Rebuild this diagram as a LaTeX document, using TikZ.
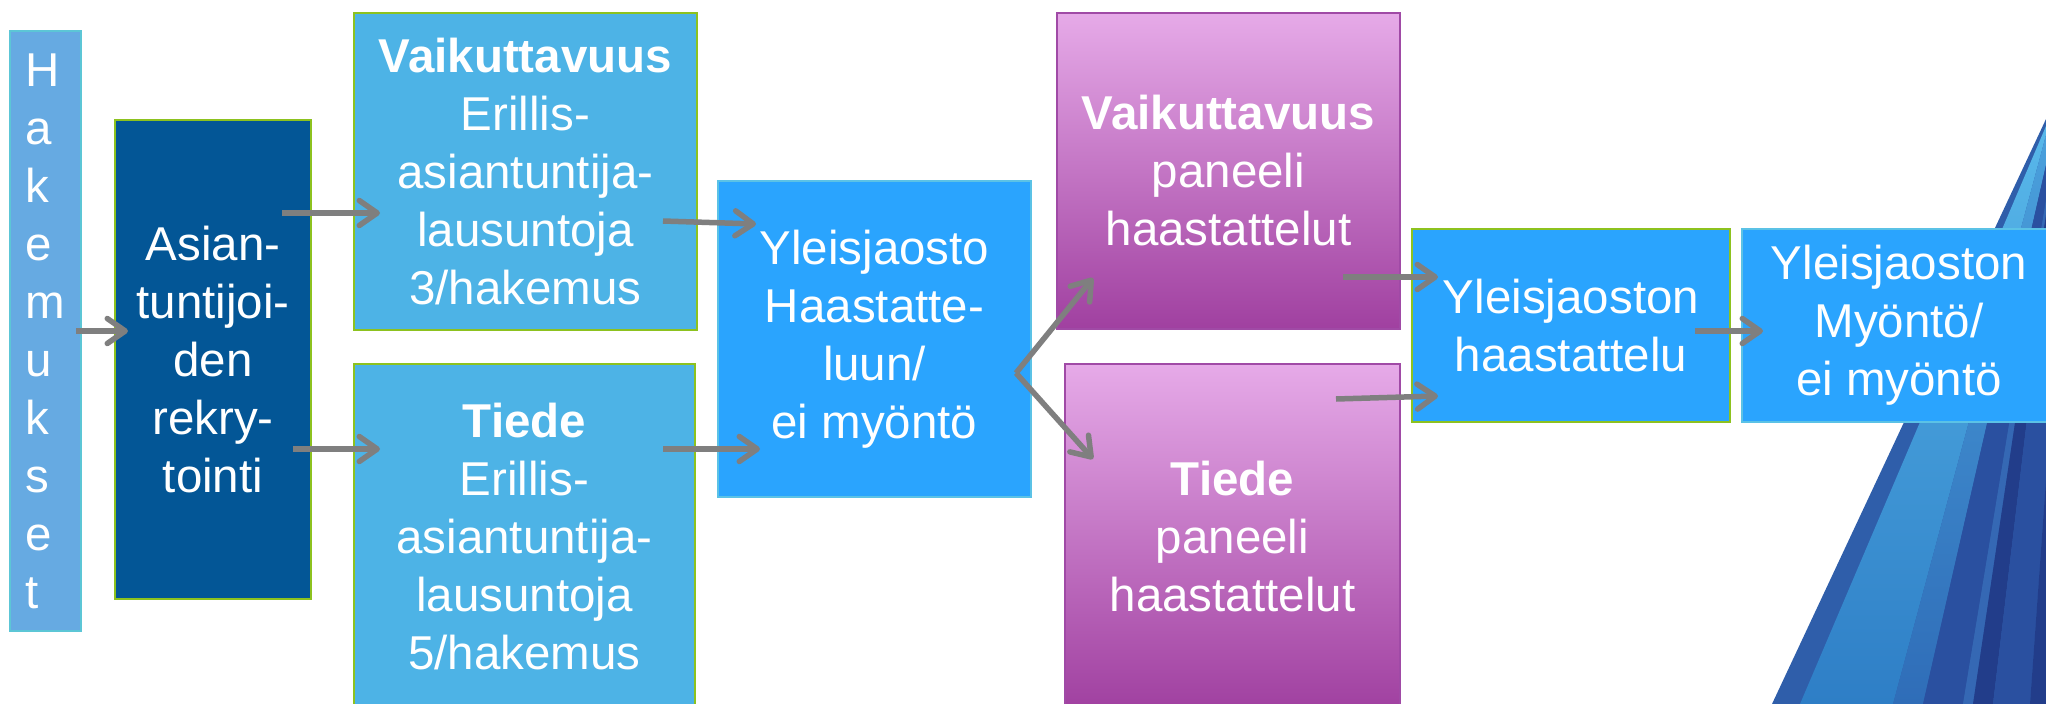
\documentclass[tikz,border=0pt]{standalone}
\usepackage{fontspec}
\setmainfont{Liberation Sans}
\usetikzlibrary{arrows.meta}
\definecolor{hakblue}{HTML}{66AAE2}
\definecolor{hakline}{HTML}{5CC6D6}
\definecolor{darkblue}{HTML}{035696}
\definecolor{midblue}{HTML}{4DB3E6}
\definecolor{brightblue}{HTML}{2AA4FE}
\definecolor{cyanline}{HTML}{5BC2E6}
\definecolor{limeline}{HTML}{8DC21F}
\definecolor{pinktop}{HTML}{E6AAE8}
\definecolor{pinkmid}{HTML}{C47CC6}
\definecolor{pinkbot}{HTML}{A040A0}
\definecolor{purpleline}{HTML}{A04AA6}
\definecolor{arrowgray}{HTML}{7F7F7F}
\definecolor{swbase}{HTML}{2F5EAA}
\definecolor{swlightlo}{HTML}{2E7EC6}
\definecolor{swlighthi}{HTML}{58B8EA}
\definecolor{swmidlo}{HTML}{2F6DB8}
\definecolor{swmidhi}{HTML}{4AA0DC}
\definecolor{swdark}{HTML}{2A50A0}
\definecolor{swstrip}{HTML}{3568B4}
\definecolor{swnavy}{HTML}{223D8A}
\begin{document}
  \begin{tikzpicture}[x=1pt,y=-1pt,
      box/.style 2 args={draw, line width=2pt, text=white, align=center, inner sep=0pt,
        minimum width=#1pt, minimum height=#2pt, font=\fontsize{47.5}{58}\selectfont},
      arr/.style={draw=arrowgray, line width=5.5pt, -{Straight Barb[length=18pt,width=25pt,round]}}]
    \useasboundingbox (0,0) rectangle (2046,704);
    \fill[white] (0,0) rectangle (2046,704);
    \fill[swbase] (1772,704) -- (2046,119) -- (2046,704) -- cycle;
    \shade[bottom color=swlightlo, top color=swlighthi] (1800,704) -- (2046,126) -- (2046,135) -- (1893,704) -- cycle;
    \shade[bottom color=swmidlo, top color=swmidhi] (1893,704) -- (2046,135) -- (2046,165) -- (1923,704) -- cycle;
    \fill[swdark] (1923,704) -- (2046,165) -- (2046,200) -- (1963,704) -- cycle;
    \fill[swstrip] (1963,704) -- (2046,200) -- (2046,215) -- (1973,704) -- cycle;
    \fill[swnavy] (1973,704) -- (2046,215) -- (2046,260) -- (1993,704) -- cycle;
    \fill[swdark] (1993,704) -- (2046,260) -- (2046,480) -- (2030,704) -- cycle;
    \fill[swnavy] (2030,704) -- (2046,480) -- (2046,704) -- cycle;

    \node[box={71}{600}, draw=hakline, fill=hakblue, align=left] (hak) at (45.5,331) {H\\a\\k\\e\\m\\u\\k\\s\\e\\t};
    \node[box={196}{479}, draw=limeline, fill=darkblue] (asian) at (213,359.5) {Asian-\\tuntijoi-\\den\\rekry-\\tointi};
    \node[box={343}{317}, draw=limeline, fill=midblue] (vaikLaus) at (525.5,171.5) {\textbf{Vaikuttavuus}\\Erillis-\\asiantuntija-\\lausuntoja\\3/hakemus};
    \node[box={341}{346}, draw=limeline, fill=midblue] (tiedeLaus) at (524.5,537) {\textbf{Tiede}\\Erillis-\\asiantuntija-\\lausuntoja\\5/hakemus};
    \node[box={313}{316}, draw=cyanline, fill=brightblue] (yleis) at (874.5,339) {Yleisjaosto\\Haastatte-\\luun/\\ei myöntö};
    \node[box={343}{316}, draw=purpleline, top color=pinktop, middle color=pinkmid, bottom color=pinkbot] (vaikPan) at (1228.5,171) {\textbf{Vaikuttavuus}\\paneeli\\haastattelut};
    \node[box={335}{346}, draw=purpleline, top color=pinktop, middle color=pinkmid, bottom color=pinkbot] (tiedePan) at (1232.5,537) {\textbf{Tiede}\\paneeli\\haastattelut};
    \node[box={318}{193}, draw=limeline, fill=brightblue] (haast) at (1571,325.5) {Yleisjaoston\\haastattelu};
    \node[box={314}{193}, draw=cyanline, fill=brightblue] (myonto) at (1899,325.5) {Yleisjaoston\\Myöntö/\\ei myöntö};

    \coordinate (hakOut) at (76,331);
    \coordinate (asianIn) at (128,331);
    \coordinate (asianOutV) at (282,213);
    \coordinate (vaikLausIn) at (380,213);
    \coordinate (asianOutT) at (293,449);
    \coordinate (tiedeLausIn) at (380,449);
    \coordinate (vaikLausOut) at (663,221);
    \coordinate (yleisInV) at (756,224);
    \coordinate (tiedeLausOut) at (663,449);
    \coordinate (yleisInT) at (760,449);
    \coordinate (fork) at (1016,373);
    \coordinate (vaikPanIn) at (1093,278);
    \coordinate (tiedePanIn) at (1093,459);
    \coordinate (vaikPanOut) at (1343,277);
    \coordinate (haastInV) at (1438,277);
    \coordinate (tiedePanOut) at (1336,399);
    \coordinate (haastInT) at (1438,396);
    \coordinate (haastOut) at (1695,331);
    \coordinate (myontoIn) at (1763,331);

    \draw[arr] (hakOut) -- (asianIn);
    \draw[arr] (asianOutV) -- (vaikLausIn);
    \draw[arr] (asianOutT) -- (tiedeLausIn);
    \draw[arr] (vaikLausOut) -- (yleisInV);
    \draw[arr] (tiedeLausOut) -- (yleisInT);
    \draw[arr] (fork) -- (vaikPanIn);
    \draw[arr] (fork) -- (tiedePanIn);
    \draw[arr] (vaikPanOut) -- (haastInV);
    \draw[arr] (tiedePanOut) -- (haastInT);
    \draw[arr] (haastOut) -- (myontoIn);
  \end{tikzpicture}
\end{document}
